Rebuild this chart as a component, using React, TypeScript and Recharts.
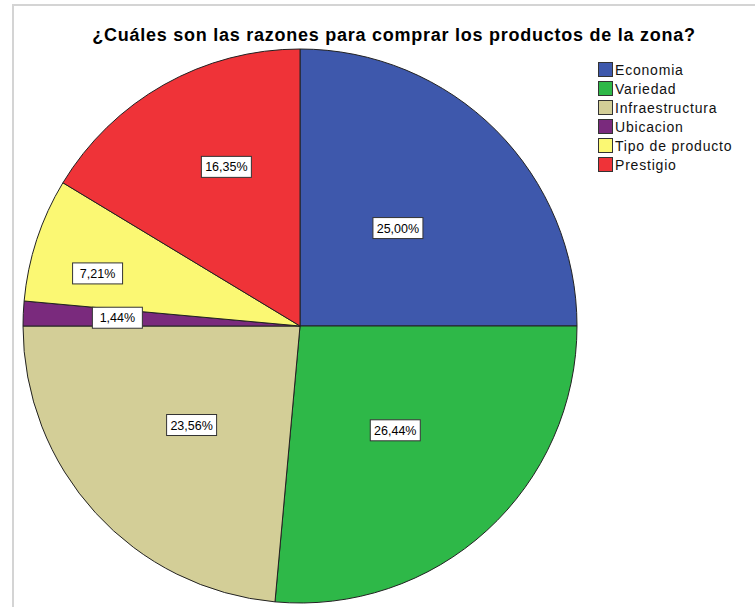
import React from "react"
import { PieChart, Pie, Cell, Legend } from "recharts"

const categories = ["Economia", "Variedad", "Infraestructura", "Ubicacion", "Tipo de producto", "Prestigio"]
const percents = [25.0, 26.44, 23.56, 1.44, 7.21, 16.35]

const COLORS = ["#3E58AC", "#2EB848", "#D3CE97", "#7A2A7D", "#FBF873", "#EF3338"]
// where each % box sits, as a share of the radius, plus a small angle nudge (deg)
const LABEL_RADIUS = [0.5, 0.51, 0.53, 0.66, 0.755, 0.633]
const LABEL_NUDGE = [0, 0, 0, 0, 3.6, -4.6]

const FONT = "'Liberation Sans', Arial, sans-serif"
const RAD = Math.PI / 180

const chartData = categories.map((name, i) => ({ name, value: percents[i] }))

const fmt = (v: number) => v.toFixed(2).replace(".", ",") + "%"

const renderLabel = (props: any) => {
  const { cx, cy, midAngle, outerRadius, index, value } = props
  const r = outerRadius * LABEL_RADIUS[index]
  const a = (midAngle + LABEL_NUDGE[index]) * RAD
  const x = cx + r * Math.cos(a)
  const y = cy - r * Math.sin(a)
  const w = 50
  const h = 21
  return (
    <g key={"lbl" + index}>
      <rect x={x - w / 2} y={y - h / 2} width={w} height={h} fill="#fff" stroke="#333" strokeWidth={1} />
      <text x={x} y={y + 4.5} textAnchor="middle" fontSize={12.5} fontFamily={FONT} fill="#000">
        {fmt(value)}
      </text>
    </g>
  )
}

const LegendBox = () => (
  <div style={{ fontFamily: FONT, fontSize: 14, letterSpacing: 0.8, color: "#111" }}>
    {chartData.map((d, i) => (
      <div key={d.name} style={{ display: "flex", alignItems: "center", height: 19 }}>
        <span
          style={{
            width: 13,
            height: 13,
            background: COLORS[i],
            border: "1px solid #333",
            marginRight: 2,
            display: "inline-block",
          }}
        />
        <span>{d.name}</span>
      </div>
    ))}
  </div>
)

export default function App() {
  return (
    <div style={{ position: "fixed", left: 0, top: 0, width: 755, height: 607, background: "#fff", overflow: "hidden" }}>
      {/* frame of the output viewer */}
      <div
        style={{
          position: "absolute",
          left: 12,
          top: 4,
          width: 760,
          height: 620,
          borderTop: "2px solid #d4d4d4",
          borderLeft: "2px solid #d4d4d4",
        }}
      />
      <div
        style={{
          position: "absolute",
          left: 0,
          width: 788,
          top: 25,
          textAlign: "center",
          fontFamily: FONT,
          fontWeight: "bold",
          fontSize: 18,
          letterSpacing: 0.75,
          color: "#000",
        }}
      >
        ¿Cuáles son las razones para comprar los productos de la zona?
      </div>
      <div style={{ position: "absolute", left: 0, top: 0 }}>
        <PieChart width={755} height={607} margin={{ top: 0, right: 0, bottom: 0, left: 0 }}>
          <Pie
            data={chartData}
            dataKey="value"
            nameKey="name"
            cx={300}
            cy={326}
            outerRadius={277}
            startAngle={90}
            endAngle={-270}
            stroke="#222"
            strokeWidth={1}
            label={renderLabel}
            labelLine={false}
            isAnimationActive={false}
          >
            {chartData.map((entry, index) => (
              <Cell key={entry.name} fill={COLORS[index]} />
            ))}
          </Pie>
          <Legend
            content={<LegendBox />}
            wrapperStyle={{ position: "absolute", left: 598, top: 60, width: 155 }}
          />
        </PieChart>
      </div>
    </div>
  )
}
